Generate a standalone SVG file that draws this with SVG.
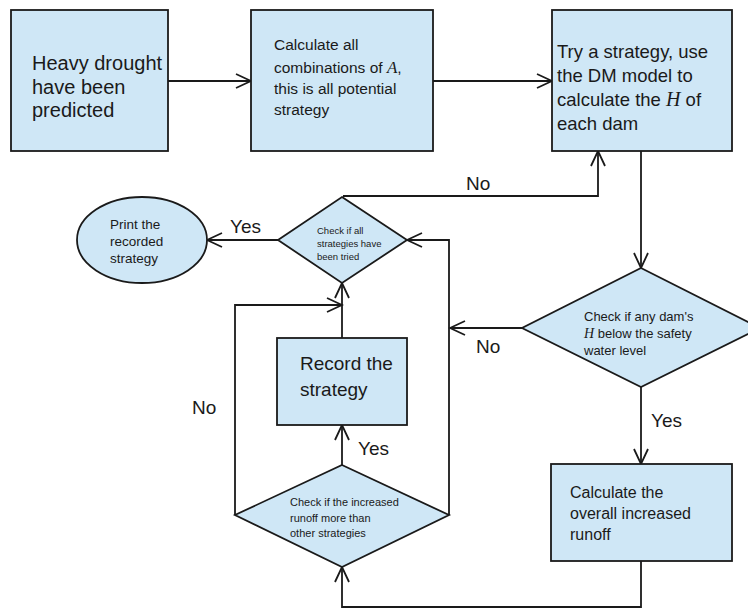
<svg xmlns="http://www.w3.org/2000/svg" width="748" height="610" viewBox="0 0 748 610">
<defs>
<style>
.box{fill:#cfe7f6;stroke:#1a1a1a;stroke-width:1.8}
.ln{fill:none;stroke:#1a1a1a;stroke-width:1.8}
.t{font-family:"Liberation Sans","Noto Sans CJK SC",sans-serif;fill:#1a1a1a}
.m{font-family:"Liberation Serif",serif;font-style:italic}
</style>
<marker id="ah" markerUnits="userSpaceOnUse" markerWidth="18" markerHeight="18" viewBox="0 0 18 18" refX="16" refY="8" orient="auto">
<path d="M1,1 L16,8 L1,15" fill="none" stroke="#1a1a1a" stroke-width="1.8"/>
</marker>
</defs>
<g id="connectors">
<line class="ln" x1="168" y1="81" x2="251" y2="81" marker-end="url(#ah)"/>
<line class="ln" x1="433" y1="81" x2="552" y2="81" marker-end="url(#ah)"/>
<line class="ln" x1="641" y1="151" x2="641" y2="268" marker-end="url(#ah)"/>
<polyline class="ln" points="343,196 598,196 598,151" marker-end="url(#ah)"/>
<line class="ln" x1="522" y1="328" x2="450" y2="328" marker-end="url(#ah)"/>
<line class="ln" x1="641" y1="387" x2="641" y2="464" marker-end="url(#ah)"/>
<polyline class="ln" points="641,561 641,607 342,607 342,567" marker-end="url(#ah)"/>
<polyline class="ln" points="449,515 449,240 407,240" marker-end="url(#ah)"/>
<line class="ln" x1="278" y1="240" x2="207" y2="240" marker-end="url(#ah)"/>
<line class="ln" x1="342" y1="338" x2="342" y2="283" marker-end="url(#ah)"/>
<polyline class="ln" points="235,515 235,305 342,305" marker-end="url(#ah)"/>
<line class="ln" x1="342" y1="465" x2="342" y2="425" marker-end="url(#ah)"/>
<text class="t" x="466" y="190" font-size="19">No</text>
<text class="t" x="476" y="353" font-size="19">No</text>
<text class="t" x="651" y="427" font-size="19">Yes</text>
<text class="t" x="230" y="233" font-size="19">Yes</text>
<text class="t" x="358" y="455" font-size="19">Yes</text>
<text class="t" x="192" y="414" font-size="19">No</text>
</g>
<g id="n1">
<rect class="box" x="11" y="10" width="157" height="141"/>
<text class="t" font-size="20" x="32" y="70">Heavy drought</text>
<text class="t" font-size="20" x="32" y="94">have been</text>
<text class="t" font-size="20" x="32" y="117">predicted</text>
</g>
<g id="n2">
<rect class="box" x="251" y="10" width="182" height="141"/>
<text class="t" font-size="15.5" x="274" y="50">Calculate all</text>
<text class="t" font-size="15.5" x="274" y="73">combinations of <tspan class="m" font-size="17">A</tspan>,</text>
<text class="t" font-size="15.5" x="274" y="94">this is all potential</text>
<text class="t" font-size="15.5" x="274" y="115">strategy</text>
</g>
<g id="n3">
<rect class="box" x="552" y="10" width="180" height="141"/>
<text class="t" font-size="18.5" x="557" y="58">Try a strategy, use</text>
<text class="t" font-size="18.5" x="557" y="82">the DM model to</text>
<text class="t" font-size="18.5" x="557" y="106">calculate the <tspan class="m" font-size="20">H</tspan> of</text>
<text class="t" font-size="18.5" x="557" y="130">each dam</text>
</g>
<g id="n4">
<polygon class="box" points="641,268 760,328 641,387 522,328"/>
<text class="t" font-size="13" x="584" y="321">Check if any dam's</text>
<text class="t" font-size="13" x="584" y="338"><tspan class="m" font-size="14">H</tspan> below the safety</text>
<text class="t" font-size="13" x="584" y="355">water level</text>
</g>
<g id="n5">
<rect class="box" x="551" y="464" width="181" height="97"/>
<text class="t" font-size="16" x="570" y="498">Calculate the</text>
<text class="t" font-size="16" x="570" y="519">overall increased</text>
<text class="t" font-size="16" x="570" y="540">runoff</text>
</g>
<g id="n6">
<polygon class="box" points="342,465 449,515 342,567 235,515"/>
<text class="t" font-size="11" x="290" y="506">Check if the increased</text>
<text class="t" font-size="11" x="290" y="522">runoff more than</text>
<text class="t" font-size="11" x="290" y="537">other strategies</text>
</g>
<g id="n7">
<rect class="box" x="277" y="338" width="130" height="87"/>
<text class="t" font-size="19" x="300" y="370">Record the</text>
<text class="t" font-size="19" x="300" y="396">strategy</text>
</g>
<g id="n8">
<polygon class="box" points="342,197 407,240 342,283 278,240"/>
<text class="t" font-size="9.5" x="317" y="234">Check if all</text>
<text class="t" font-size="9.5" x="317" y="247">strategies have</text>
<text class="t" font-size="9.5" x="317" y="260">been tried</text>
</g>
<g id="n9">
<ellipse class="box" cx="142" cy="240" rx="65" ry="43"/>
<text class="t" font-size="13.5" x="110" y="229">Print the</text>
<text class="t" font-size="13.5" x="110" y="246">recorded</text>
<text class="t" font-size="13.5" x="110" y="263">strategy</text>
</g>
</svg>
